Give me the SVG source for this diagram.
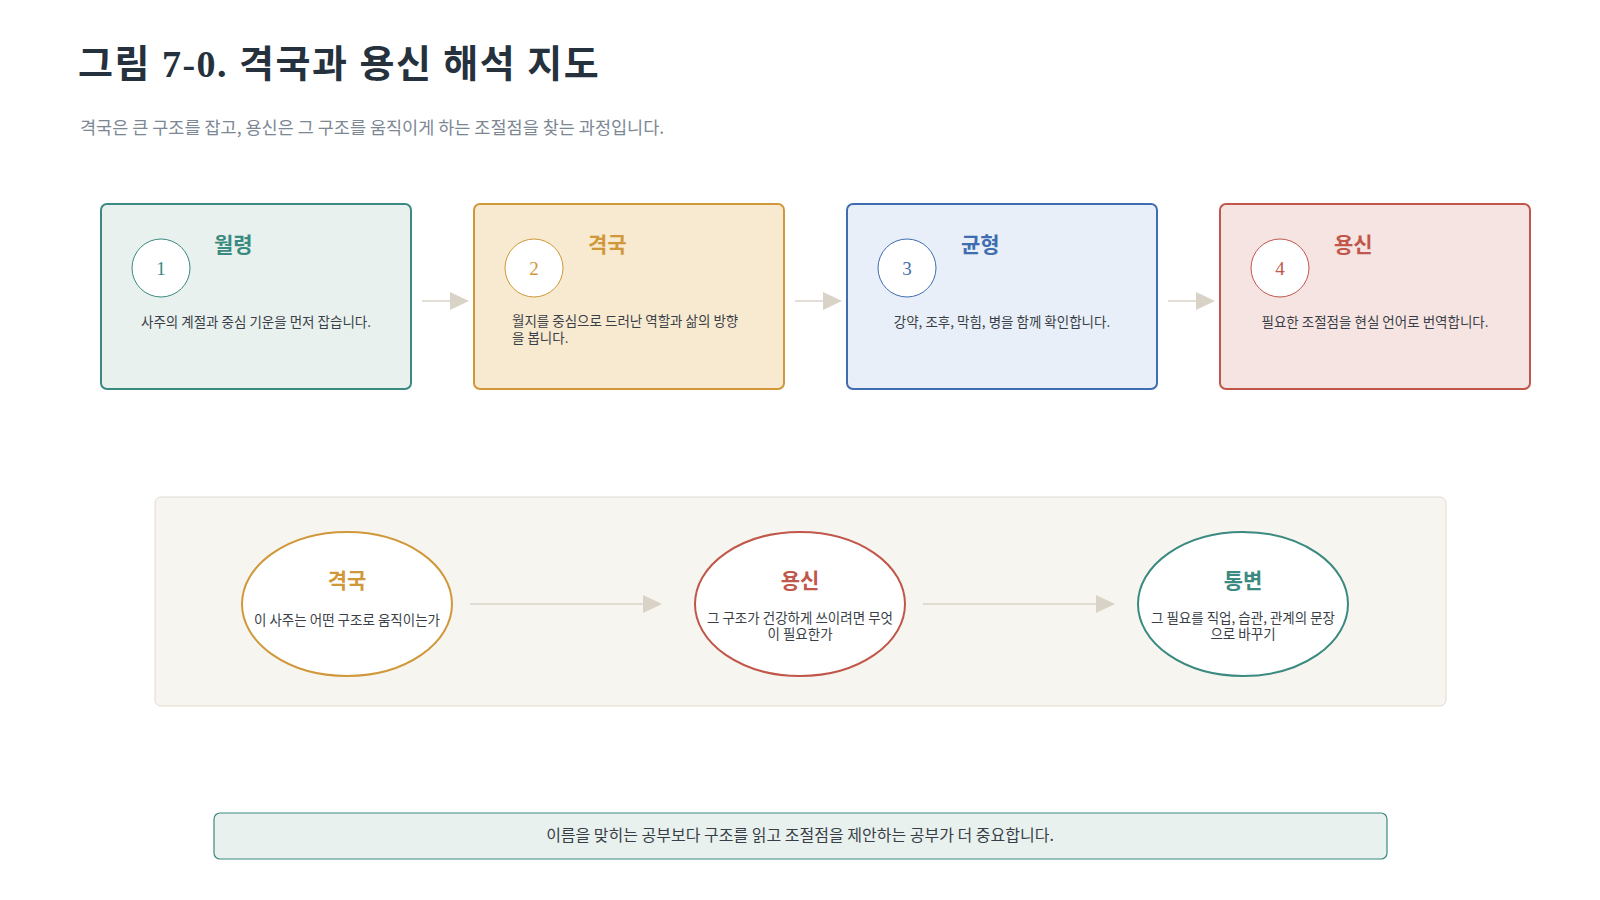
<svg xmlns="http://www.w3.org/2000/svg" width="1600" height="900" viewBox="0 0 1600 900">
<style>
.serif{font-family:"Liberation Serif","Noto Sans CJK KR",serif}
.sans{font-family:"Noto Sans CJK KR","Noto Sans",sans-serif}
.desc{font-family:"Noto Sans CJK KR",sans-serif;font-size:13.5px;fill:#3a3f47}
.ttl{font-family:"Liberation Serif","Noto Sans CJK KR",serif;font-size:21px;font-weight:bold}
.num{font-family:"Liberation Serif",serif;font-size:19px}
.conn line{stroke:#d9d3c7;stroke-width:1.5}
.conn polygon{fill:#d9d3c7}
</style>
<rect width="1600" height="900" fill="#fff"/>
<text x="78" y="77" class="serif" font-size="38" font-weight="bold" fill="#25313d" letter-spacing="1.5">그림 7-0. 격국과 용신 해석 지도</text>
<text x="80" y="134" class="sans" font-size="17.5" fill="#7d8794">격국은 큰 구조를 잡고, 용신은 그 구조를 움직이게 하는 조절점을 찾는 과정입니다.</text>

<g id="step1">
<rect x="101" y="204" width="310" height="185" rx="6" fill="#e8f1ee" stroke="#3a8a80" stroke-width="2"/>
<circle cx="161" cy="268" r="29" fill="#fff" stroke="#3a8a80"/>
<text x="161" y="275" class="num" fill="#3a8a80" text-anchor="middle">1</text>
<text x="214" y="252" class="ttl" fill="#3a8a80">월령</text>
<text x="256" y="327" class="desc" text-anchor="middle">사주의 계절과 중심 기운을 먼저 잡습니다.</text>
</g>
<g id="step2">
<rect x="474" y="204" width="310" height="185" rx="6" fill="#f8ead0" stroke="#d0983a" stroke-width="2"/>
<circle cx="534" cy="268" r="29" fill="#fff" stroke="#d0983a"/>
<text x="534" y="275" class="num" fill="#d0983a" text-anchor="middle">2</text>
<text x="588" y="252" class="ttl" fill="#d0983a">격국</text>
<text x="512" y="326" class="desc">월지를 중심으로 드러난 역할과 삶의 방향</text>
<text x="512" y="343" class="desc">을 봅니다.</text>
</g>
<g id="step3">
<rect x="847" y="204" width="310" height="185" rx="6" fill="#e8eff8" stroke="#3f6db0" stroke-width="2"/>
<circle cx="907" cy="268" r="29" fill="#fff" stroke="#3f6db0"/>
<text x="907" y="275" class="num" fill="#3f6db0" text-anchor="middle">3</text>
<text x="961" y="252" class="ttl" fill="#3f6db0">균형</text>
<text x="1002" y="327" class="desc" text-anchor="middle">강약, 조후, 막힘, 병을 함께 확인합니다.</text>
</g>
<g id="step4">
<rect x="1220" y="204" width="310" height="185" rx="6" fill="#f6e4e2" stroke="#c0574a" stroke-width="2"/>
<circle cx="1280" cy="268" r="29" fill="#fff" stroke="#c0574a"/>
<text x="1280" y="275" class="num" fill="#c0574a" text-anchor="middle">4</text>
<text x="1334" y="252" class="ttl" fill="#c0574a">용신</text>
<text x="1375" y="327" class="desc" text-anchor="middle">필요한 조절점을 현실 언어로 번역합니다.</text>
</g>

<g id="panel">
<rect x="155" y="497" width="1291" height="209" rx="6" fill="#f7f5ef" stroke="#e2dccf"/>
</g>
<g id="e1">
<ellipse cx="347" cy="604" rx="105" ry="72" fill="#fff" stroke="#d0983a" stroke-width="2"/>
<text x="347" y="588" class="ttl" fill="#d0983a" text-anchor="middle">격국</text>
<text x="347" y="625" class="desc" font-size="11" text-anchor="middle">이 사주는 어떤 구조로 움직이는가</text>
</g>
<g id="e2">
<ellipse cx="800" cy="604" rx="105" ry="72" fill="#fff" stroke="#c0574a" stroke-width="2"/>
<text x="800" y="623" class="desc" font-size="11" text-anchor="middle">그 구조가 건강하게 쓰이려면 무엇</text>
<text x="800" y="639" class="desc" font-size="11" text-anchor="middle">이 필요한가</text>
<text x="800" y="588" class="ttl" fill="#c0574a" text-anchor="middle">용신</text>
</g>
<g id="e3">
<ellipse cx="1243" cy="604" rx="105" ry="72" fill="#fff" stroke="#3a8a80" stroke-width="2"/>
<text x="1243" y="588" class="ttl" fill="#3a8a80" text-anchor="middle">통변</text>
<text x="1243" y="623" class="desc" font-size="11" text-anchor="middle">그 필요를 직업, 습관, 관계의 문장</text>
<text x="1243" y="639" class="desc" font-size="11" text-anchor="middle">으로 바꾸기</text>
</g>

<g id="connectors" class="conn">
<line x1="422" y1="301" x2="452" y2="301"/><polygon points="450,292 469,301 450,310"/>
<line x1="795" y1="301" x2="825" y2="301"/><polygon points="823,292 842,301 823,310"/>
<line x1="1168" y1="301" x2="1198" y2="301"/><polygon points="1196,292 1215,301 1196,310"/>
<line x1="470" y1="604" x2="645" y2="604"/><polygon points="643,595 662,604 643,613"/>
<line x1="923" y1="604" x2="1098" y2="604"/><polygon points="1096,595 1115,604 1096,613"/>
</g>

<g id="note">
<rect x="214" y="813" width="1173" height="46" rx="6" fill="#e8f1ee" stroke="#3a8a80" stroke-width="1.2"/>
<text x="800" y="841" class="sans" font-size="16" fill="#3a3f47" text-anchor="middle">이름을 맞히는 공부보다 구조를 읽고 조절점을 제안하는 공부가 더 중요합니다.</text>
</g>
</svg>
